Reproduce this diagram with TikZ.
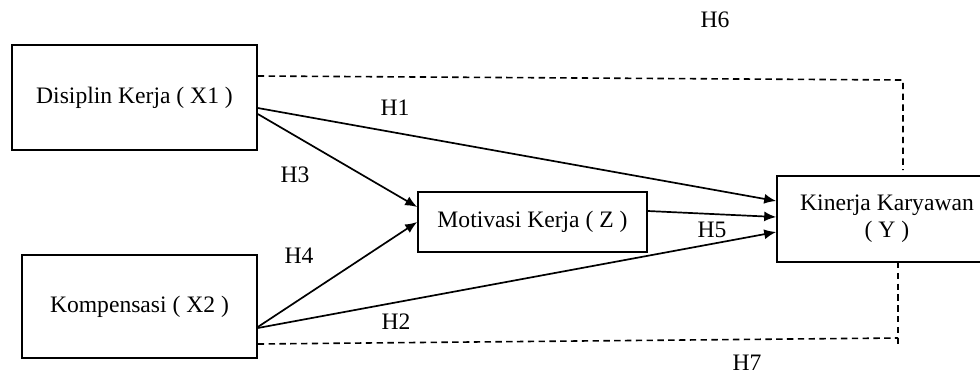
\documentclass[tikz,border=0pt]{standalone}
\usepackage{fontspec}
\setmainfont{Liberation Serif}
\usetikzlibrary{arrows.meta}
\begin{document}
\begin{tikzpicture}[x=0.5pt,y=-0.5pt,
  every node/.style={font=\fontsize{11.8}{13.5}\selectfont},
  varbox/.style={draw, line width=0.8pt, rectangle, inner sep=0pt, align=center},
  path/.style={line width=0.85pt, -{Latex[length=6pt,width=5pt]}},
  link/.style={line width=0.8pt, dash pattern=on 3.2pt off 2.2pt},
  hlabel/.style={inner sep=0pt}]
\clip (0,0) rectangle (980,376);
\useasboundingbox (0,0) rectangle (980,376);
\fill[white] (0,0) rectangle (980,376);

% variables
\node[varbox, minimum width=122.5pt, minimum height=52.5pt] (x1) at (134.5,97.5) {Disiplin Kerja ( X1 )};
\node[varbox, minimum width=117.5pt, minimum height=51.5pt] (x2) at (139.5,306.5) {Kompensasi ( X2 )};
\node[varbox, minimum width=114.5pt, minimum height=30pt] (z) at (532.5,222) {Motivasi Kerja ( Z )};
% the outcome box runs past the right edge of the page
\node[varbox, minimum width=110pt, minimum height=43pt] (y) at (887,219) {Kinerja Karyawan\\( Y )};

% direct and mediated paths
\draw[path] ([yshift=-5.25pt]x1.east) -- ([yshift=9pt]y.west);
\draw[path] ([yshift=-8.25pt]x1.east) -- ([yshift=7.5pt]z.west);
\draw[path] ([yshift=-10.25pt]x2.east) -- (z.west);
\draw[path] ([yshift=-10.75pt]x2.east) -- ([yshift=-6.5pt]y.west);
\draw[path] ([yshift=5.5pt]z.east) -- ([yshift=1pt]y.west);

% indirect links (dashed)
\coordinate (h6c) at (903,80);
\coordinate (h6e) at (903,170);
\draw[link] ([yshift=10.75pt]x1.east) -- (h6c) -- (h6e);
\coordinate (h7c) at (898,338);
\coordinate (h7t) at (898,262);
\coordinate (h7e) at (898,345);
\draw[link] ([yshift=-18.75pt]x2.east) -- (h7c);
\draw[link] (h7t) -- (h7e);

% hypothesis labels
\node[hlabel] (h1) at (395,108) {H1};
\node[hlabel] (h2) at (396,322) {H2};
\node[hlabel] (h3) at (295,175) {H3};
\node[hlabel] (h4) at (299,256) {H4};
\node[hlabel] (h5) at (712,230) {H5};
\node[hlabel] (h6) at (715,20) {H6};
\node[hlabel] (h7) at (747,363) {H7};
\end{tikzpicture}
\end{document}
